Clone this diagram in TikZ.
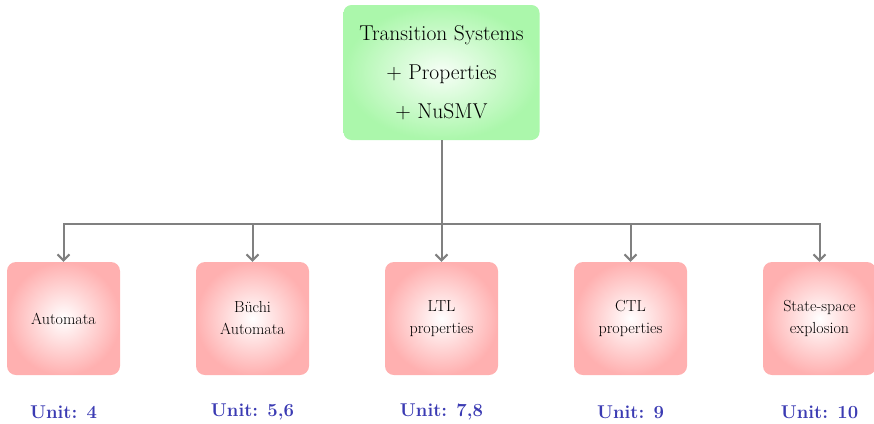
\documentclass[tikz,border=0pt]{standalone}
\usepackage{fontspec}
\usetikzlibrary{arrows.meta}
\definecolor{topgreen}{HTML}{ABF7AB}
\definecolor{boxpink}{HTML}{FFB0B0}
\definecolor{unitblue}{HTML}{3B3BB3}
\definecolor{linegray}{HTML}{808080}
\begin{document}
\begin{tikzpicture}[x=1pt,y=-1pt,
  topbox/.style={rounded corners=8pt, inner color=white!90!topgreen, outer color=topgreen,
     minimum width=196pt, minimum height=135pt, align=center, inner sep=0pt,
     font=\fontsize{21.5}{39}\selectfont},
  subbox/.style={rounded corners=9pt, inner color=white, outer color=boxpink,
     minimum width=113pt, minimum height=113pt, align=center, inner sep=0pt,
     font=\fontsize{16}{22}\selectfont},
  unitlbl/.style={text=unitblue, font=\fontsize{18.5}{20}\selectfont\bfseries},
  conn/.style={draw=linegray, line width=2pt},
  arr/.style={conn, -{Straight Barb[length=6pt,width=12pt,line width=2pt]}}
]
\useasboundingbox (0,0) rectangle (874,423);
\node[topbox] (top) at (441.5,72.5) {Transition Systems\\+ Properties\\+ NuSMV};
\node[subbox] (aut) at (63.5,318.5) {Automata};
\node[subbox] (buc) at (252.5,318.5) {Büchi\\Automata};
\node[subbox] (ltl) at (441.5,318.5) {LTL\\properties};
\node[subbox] (ctl) at (630.5,318.5) {CTL\\properties};
\node[subbox] (sse) at (819.5,318.5) {State-space\\explosion};
\node[unitlbl] (u1) at (63.5,412) {Unit: 4};
\node[unitlbl] (u2) at (252.5,412) {Unit: 5,6};
\node[unitlbl] (u3) at (441.5,412) {Unit: 7,8};
\node[unitlbl] (u4) at (630.5,412) {Unit: 9};
\node[unitlbl] (u5) at (819.5,412) {Unit: 10};
\coordinate (j) at (441.5,224);
\draw[arr] (top.south) -- (ltl.north);
\draw[arr] (j) -| (aut.north);
\draw[arr] (j) -| (buc.north);
\draw[arr] (j) -| (ctl.north);
\draw[arr] (j) -| (sse.north);
\end{tikzpicture}
\end{document}
